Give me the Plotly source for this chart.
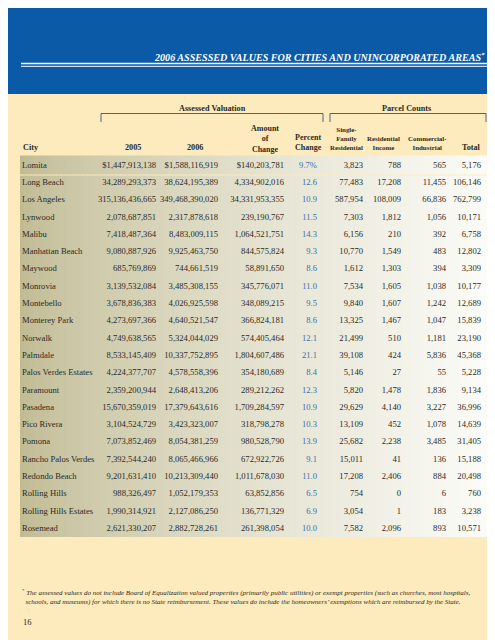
import plotly.graph_objects as go

# ---------------- data ----------------
cities = ["Lomita", "Long Beach", "Los Angeles", "Lynwood", "Malibu", "Manhattan Beach",
          "Maywood", "Monrovia", "Montebello", "Monterey Park", "Norwalk", "Palmdale",
          "Palos Verdes Estates", "Paramount", "Pasadena", "Pico Rivera", "Pomona",
          "Rancho Palos Verdes", "Redondo Beach", "Rolling Hills", "Rolling Hills Estates",
          "Rosemead"]
value_2005 = [1447913138, 34289293373, 315136436665, 2078687851, 7418487364, 9080887926,
              685769869, 3139532084, 3678836383, 4273697366, 4749638565, 8533145409,
              4224377707, 2359200944, 15670359019, 3104524729, 7073852469, 7392544240,
              9201631410, 988326497, 1990314921, 2621330207]
value_2006 = [1588116919, 38624195389, 349468390020, 2317878618, 8483009115, 9925463750,
              744661519, 3485308155, 4026925598, 4640521547, 5324044029, 10337752895,
              4578558396, 2648413206, 17379643616, 3423323007, 8054381259, 8065466966,
              10213309440, 1052179353, 2127086250, 2882728261]
amount_change = [140203781, 4334902016, 34331953355, 239190767, 1064521751, 844575824,
                 58891650, 345776071, 348089215, 366824181, 574405464, 1804607486,
                 354180689, 289212262, 1709284597, 318798278, 980528790, 672922726,
                 1011678030, 63852856, 136771329, 261398054]
pct_change = [9.7, 12.6, 10.9, 11.5, 14.3, 9.3, 8.6, 11.0, 9.5, 8.6, 12.1, 21.1,
              8.4, 12.3, 10.9, 10.3, 13.9, 9.1, 11.0, 6.5, 6.9, 10.0]
single_family = [3823, 77483, 587954, 7303, 6156, 10770, 1612, 7534, 9840, 13325, 21499,
                 39108, 5146, 5820, 29629, 13109, 25682, 15011, 17208, 754, 3054, 7582]
res_income = [788, 17208, 108009, 1812, 210, 1549, 1303, 1605, 1607, 1467, 510, 424,
              27, 1478, 4140, 452, 2238, 41, 2406, 0, 1, 2096]
comm_ind = [565, 11455, 66836, 1056, 392, 483, 394, 1038, 1242, 1047, 1181, 5836,
            55, 1836, 3227, 1078, 3485, 136, 884, 6, 183, 893]
total = [5176, 106146, 762799, 10171, 6758, 12802, 3309, 10177, 12689, 15839, 23190,
         45368, 5228, 9134, 36996, 14639, 31405, 15188, 20498, 760, 3238, 10571]

title_text = "2006 ASSESSED VALUES FOR CITIES AND UNINCORPORATED AREAS"
footnote_lines = [
    "The assessed values do not include Board of Equalization valued properties (primarily public utilities) or exempt properties (such as churches, most hospitals,",
    "schools, and museums) for which there is no State reimbursement. These values do include the homeowners\u2019 exemptions which are reimbursed by the State.",
]
page_number = "16"

# ---------------- style ----------------
W, H = 495, 640
BLUE = "#0a5aa8"
CREAM = "#fdebbd"
TEXT = "#2b2a24"
PCT_BLUE = "#3a6fab"
SERIF = "Liberation Serif, Times New Roman, serif"
FS = 8.6

row0, drow = 157.5, 17.3
row_y = [row0 + i * drow for i in range(len(cities))]

fig = go.Figure()
shapes = []

# blue header band + double rule
shapes.append(dict(type="rect", x0=0, x1=W, y0=0, y1=86, fillcolor=BLUE, line_width=0, layer="below"))
shapes.append(dict(type="line", x0=13, x1=479, y0=55.5, y1=55.5, line=dict(color="white", width=1.3), layer="below"))
shapes.append(dict(type="line", x0=13, x1=479, y0=58.3, y1=58.3, line=dict(color="white", width=1.0), layer="below"))

# gradient table backgrounds
left_c = (192, 186, 146)
right_c = (252, 252, 249)
x_left, x_right = 12, 484
n_strips = 110
def grad_band(y0, y1):
    sw = (x_right - x_left) / n_strips
    for k in range(n_strips):
        t = (k + 0.5) / n_strips
        tt = t ** 0.75
        c = tuple(int(round(left_c[j] + (right_c[j] - left_c[j]) * tt)) for j in range(3))
        shapes.append(dict(type="rect", x0=x_left + k * sw, x1=x_left + (k + 1) * sw + 0.6,
                           y0=y0, y1=y1, fillcolor="rgb(%d,%d,%d)" % c, line_width=0, layer="below"))
grad_band(147.5, 166.5)
grad_band(167.5, 529)

# brackets
BR = "#4a6580"
for xa, xb in [(93, 315), (322, 478)]:
    shapes.append(dict(type="path", path=f"M {xa} 114 L {xa} 105.5 L {xb} 105.5 L {xb} 114",
                       line=dict(color=BR, width=1), layer="below"))

# ---------------- table text ----------------
def fmt(v):
    return f"{v:,}"

cols = [
    (148, [("$" if i == 0 else "") + fmt(v) for i, v in enumerate(value_2005)], TEXT),
    (210, [("$" if i == 0 else "") + fmt(v) for i, v in enumerate(value_2006)], TEXT),
    (276, [("$" if i == 0 else "") + fmt(v) for i, v in enumerate(amount_change)], TEXT),
    (309, [f"{v:.1f}" + ("%" if i == 0 else "") for i, v in enumerate(pct_change)], PCT_BLUE),
    (355, [fmt(v) for v in single_family], TEXT),
    (393, [fmt(v) for v in res_income], TEXT),
    (438, [fmt(v) for v in comm_ind], TEXT),
    (473, [fmt(v) for v in total], TEXT),
]

fig.add_trace(go.Scatter(x=[14] * len(cities), y=row_y, mode="text", text=cities,
                         textposition="middle right",
                         textfont=dict(family=SERIF, size=FS, color=TEXT),
                         hoverinfo="skip", showlegend=False))
for cx, txt, col in cols:
    fig.add_trace(go.Scatter(x=[cx] * len(txt), y=row_y, mode="text", text=txt,
                             textposition="middle left",
                             textfont=dict(family=SERIF, size=FS, color=col),
                             hoverinfo="skip", showlegend=False))

# ---------------- annotations ----------------
ann = []
def A(x, y, text, size, xanchor="center", color=TEXT, yanchor="middle", align="center"):
    ann.append(dict(x=x, y=y, xref="x", yref="y", text=text, showarrow=False,
                    xanchor=xanchor, yanchor=yanchor, align=align,
                    font=dict(family=SERIF, size=size, color=color)))

A(479, 49, f"<b><i>{title_text}<sup>*</sup></i></b>", 10.1, xanchor="right", color="white")
A(204, 100, "<b>Assessed Valuation</b>", 8.2)
A(398, 100, "<b>Parcel Counts</b>", 8.2)

A(13, 139, "<b>City</b>", 8.2, xanchor="left")
A(125, 139, "<b>2005</b>", 8.2)
A(187, 139, "<b>2006</b>", 8.2)
A(257, 130.5, "<b>Amount<br>of<br>Change</b>", 8.0)
A(300, 134.5, "<b>Percent<br>Change</b>", 8.0)
A(338, 130.5, "<b>Single-<br>Family<br>Residential</b>", 6.9)
A(375, 134.5, "<b>Residential<br>Income</b>", 6.9)
A(419, 134.5, "<b>Commercial-<br>Industrial</b>", 6.9)
A(463, 139, "<b>Total</b>", 8.2)

A(12, 588.5, "<sup>*</sup> <i>" + footnote_lines[0] + "<br>  " + footnote_lines[1] + "</i>", 7.0,
  xanchor="left", align="left")
A(13, 614, page_number, 8.5, xanchor="left")

fig.update_layout(
    width=W, height=H,
    margin=dict(l=0, r=0, t=0, b=0),
    paper_bgcolor=CREAM, plot_bgcolor=CREAM,
    xaxis=dict(range=[0, W], visible=False, fixedrange=True, domain=[0, 1]),
    yaxis=dict(range=[H, 0], visible=False, fixedrange=True, domain=[0, 1]),
    shapes=shapes, annotations=ann,
    showlegend=False,
)

fig.write_html("out.html")
